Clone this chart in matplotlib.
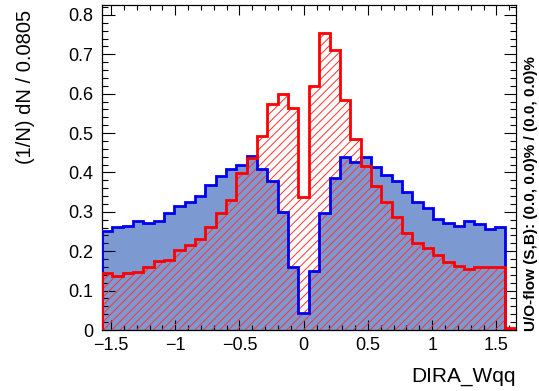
import numpy as np
import matplotlib
matplotlib.use("Agg")
import matplotlib.pyplot as plt
from matplotlib.ticker import MultipleLocator

plt.rcParams['font.family'] = ['Liberation Sans', 'DejaVu Sans']
plt.rcParams['hatch.linewidth'] = 0.7

# 39 bins over [-pi/2, pi/2] plus one overflow bin on the right
bin_width = np.pi / 39
n_bins = 40
x_min = -np.pi / 2

# signal (blue, filled)
sig = [0.251, 0.261, 0.264, 0.277, 0.271, 0.277, 0.296, 0.316, 0.326, 0.340,
       0.368, 0.392, 0.410, 0.420, 0.442, 0.410, 0.379, 0.299, 0.161, 0.044,
       0.151, 0.296, 0.385, 0.440, 0.427, 0.440, 0.415, 0.393, 0.379, 0.351,
       0.324, 0.309, 0.281, 0.271, 0.265, 0.277, 0.268, 0.256, 0.261, 0.002]
# background (red, hatched)
bkg = [0.146, 0.137, 0.146, 0.148, 0.161, 0.175, 0.178, 0.203, 0.216, 0.231,
       0.262, 0.296, 0.330, 0.398, 0.438, 0.492, 0.574, 0.598, 0.564, 0.337,
       0.619, 0.753, 0.712, 0.584, 0.484, 0.416, 0.365, 0.324, 0.288, 0.247,
       0.222, 0.207, 0.190, 0.173, 0.163, 0.155, 0.161, 0.161, 0.159, 0.004]

edges = x_min + bin_width * np.arange(n_bins + 1)

fig = plt.figure(figsize=(5.39, 3.91), dpi=100)
ax = fig.add_axes([0.189, 0.156, 0.768, 0.832])

# fills first, outlines on top
ax.stairs(sig, edges, fill=True, facecolor='#7d99d1', edgecolor='none', zorder=1)
ax.stairs(bkg, edges, fill=True, facecolor='none', edgecolor='#ff3030',
          hatch='////', linewidth=0, zorder=2)
ax.stairs(sig, edges, baseline=0, color='#0000ee', linewidth=2, zorder=3)
ax.stairs(bkg, edges, baseline=0, color='#ff0000', linewidth=2, zorder=4)

ax.set_xlim(edges[0], edges[-1])
ax.set_ylim(0, 0.826)

ax.xaxis.set_major_locator(MultipleLocator(0.5))
ax.xaxis.set_minor_locator(MultipleLocator(0.1))
ax.yaxis.set_major_locator(MultipleLocator(0.1))
ax.yaxis.set_minor_locator(MultipleLocator(0.02))
ax.yaxis.set_major_formatter(matplotlib.ticker.FuncFormatter(
    lambda v, p: '0' if abs(v) < 1e-9 else '%.1f' % v))
ax.xaxis.set_major_formatter(matplotlib.ticker.FuncFormatter(
    lambda v, p: '0' if abs(v) < 1e-9 else ('%g' % v).replace('-', '\u2212')))

ax.tick_params(axis='both', which='both', direction='in', top=True, right=True,
               labelsize=13, width=0.8)
ax.tick_params(axis='x', which='major', length=7, pad=5)
ax.tick_params(axis='x', which='minor', length=3.5)
ax.tick_params(axis='y', which='major', length=9, pad=6)
ax.tick_params(axis='y', which='minor', length=4.5)
for s in ax.spines.values():
    s.set_linewidth(0.9)

fig.text(26 / 539, 1 - 10 / 391, '(1/N) dN / 0.0805', rotation=90,
         ha='center', va='top', fontsize=14.5)
fig.text(516 / 539, 1 - 382 / 391, 'DIRA_Wqq', ha='right', va='baseline',
         fontsize=15)
fig.text(531 / 539, 1 - 331 / 391, 'U/O-flow (S,B): (0.0, 0.0)% / (0.0, 0.0)%',
         rotation=90, ha='center', va='bottom', fontsize=11, fontweight='bold')

fig.savefig('out.png', dpi=100)
